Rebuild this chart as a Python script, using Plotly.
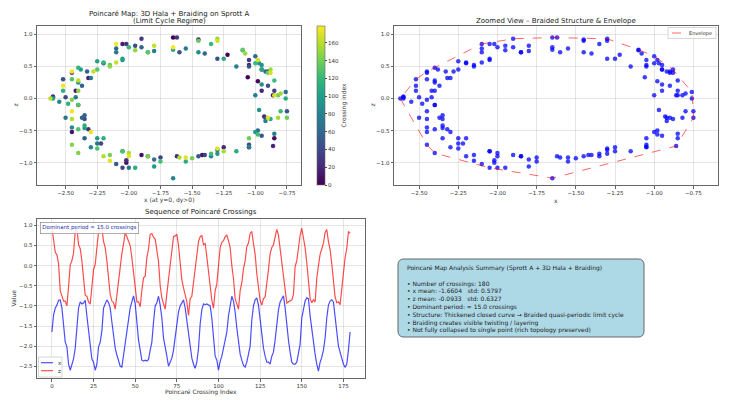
import plotly.graph_objects as go

# Poincare crossings (x and z at each crossing)
crossing_x = [
    -1.65, -1.22, -1.06, -0.98, -0.86, -0.85, -1.05, -1.42, -1.90, -2.02, -2.45, -2.60, -2.42, -2.32, -2.05,
    -1.45, -1.05, -0.90, -0.95, -0.93, -0.86, -1.25, -1.62, -2.02, -2.32, -2.40, -2.60, -2.45, -2.02, -1.90,
    -1.62, -1.05, -0.95, -0.85, -0.92, -1.05, -1.40, -1.75, -2.05, -2.22, -2.35, -2.50, -2.52, -2.20, -1.95,
    -1.60, -1.30, -1.05, -0.90, -0.75, -0.95, -1.45, -1.85, -2.10, -2.35, -2.37, -2.35, -2.37, -2.33, -2.10,
    -1.90, -1.40, -1.00, -0.92, -0.76, -0.98, -1.30, -1.80, -2.00, -2.25, -2.50, -2.42, -2.30, -2.10, -1.80,
    -1.55, -1.15, -1.00, -0.92, -0.85, -1.05, -1.35, -1.65, -2.05, -2.30, -2.45, -2.55, -2.40, -2.05, -1.45,
    -1.10, -0.95, -0.97, -0.95, -0.97, -1.00, -1.30, -1.80, -2.25, -2.35, -2.60, -2.38, -2.25, -2.05, -1.85,
    -1.65, -1.25, -0.95, -0.76, -0.88, -1.15, -1.55, -1.95, -2.20, -2.35, -2.48, -2.52, -2.40, -2.20, -2.00,
    -1.35, -1.00, -0.85, -0.80, -0.98, -1.35, -1.75, -2.05, -2.25, -2.40, -2.40, -2.45, -2.25, -2.15, -1.85,
    -1.45, -1.10, -0.90, -0.82, -0.75, -1.05, -1.50, -1.85, -2.15, -2.40, -2.45, -2.45, -2.40, -2.15, -1.95,
    -1.30, -1.08, -0.88, -0.80, -0.82, -1.25, -1.60, -2.00, -2.20, -2.45, -2.62, -2.40, -2.28, -2.10, -1.80,
    -1.30, -0.98, -0.88, -0.85, -0.90, -1.30, -1.55, -2.00, -2.15, -2.30, -2.45, -2.52, -2.45, -2.10, -1.65,
]
crossing_z = [
    0.95, 0.68, 0.33, 0.27, 0.05, -0.62, -0.76, -0.88, -0.88, -1.00, -0.52, 0.02, 0.12, 0.32, 0.85,
    0.92, 0.52, 0.42, 0.12, -0.28, -0.74, -0.76, -0.90, -0.96, -0.48, -0.10, 0.03, 0.40, 0.85, 0.93,
    0.95, 0.60, 0.45, 0.12, -0.30, -0.72, -0.88, -0.92, -1.08, -0.70, -0.32, 0.02, 0.30, 0.55, 0.82,
    0.72, 0.62, 0.50, 0.20, -0.20, -0.58, -0.90, -0.90, -1.02, -0.62, -0.30, -0.26, 0.20, 0.42, 0.78,
    0.80, 0.70, 0.66, 0.42, 0.10, -0.50, -0.80, -0.95, -1.08, -0.70, -0.30, 0.02, 0.32, 0.72, 0.74,
    0.78, 0.50, 0.05, -0.35, -0.55, -0.75, -0.90, -1.24, -0.82, -0.76, -0.45, -0.05, 0.25, 0.60, 0.72,
    0.75, 0.52, 0.55, 0.22, -0.18, -0.52, -0.86, -1.06, -0.62, -0.46, 0.00, 0.45, 0.58, 0.62, 0.72,
    0.76, 0.62, 0.45, 0.00, -0.32, -0.82, -0.98, -1.08, -0.62, -0.42, -0.08, 0.12, 0.48, 0.56, 0.80,
    0.85, 0.55, 0.28, -0.20, -0.56, -0.86, -0.98, -0.82, -0.78, -0.48, -0.10, 0.30, 0.45, 0.52, 0.72,
    0.90, 0.76, 0.40, 0.05, -0.30, -0.62, -0.93, -0.90, -0.88, -0.85, -0.72, -0.02, 0.12, 0.50, 0.75,
    0.93, 0.70, 0.45, 0.08, -0.30, -0.82, -0.92, -0.85, -0.90, -0.32, 0.00, 0.28, 0.42, 0.56, 0.82,
    0.90, 0.60, 0.40, 0.05, -0.30, -0.78, -0.92, -0.90, -0.97, -0.52, -0.20, 0.20, 0.42, 0.85, 0.80,
]
crossing_index = list(range(len(crossing_x)))

summary_lines = [
    "Poincaré Map Analysis Summary (Sprott A + 3D Hala + Braiding)",
    "",
    "• Number of crossings: 180",
    "• x mean: -1.6604   std: 0.5797",
    "• z mean: -0.0933   std: 0.6327",
    "• Dominant period: ≈ 15.0 crossings",
    "• Structure: Thickened closed curve → Braided quasi-periodic limit cycle",
    "• Braiding creates visible twisting / layering",
    "• Not fully collapsed to single point (rich topology preserved)",
]

FONT = "DejaVu Sans"
W, H = 731, 411
OFF = 8  # page body margin


def convex_hull(points):
    pts = sorted(set(points))

    def cross(o, a, b):
        return (a[0] - o[0]) * (b[1] - o[1]) - (a[1] - o[1]) * (b[0] - o[0])

    lower, upper = [], []
    for p in pts:
        while len(lower) >= 2 and cross(lower[-2], lower[-1], p) <= 0:
            lower.pop()
        lower.append(p)
    for p in reversed(pts):
        while len(upper) >= 2 and cross(upper[-2], upper[-1], p) <= 0:
            upper.pop()
        upper.append(p)
    hull = lower[:-1] + upper[:-1]
    return hull + [hull[0]]


def px_x(p):
    return (p - OFF) / W


def px_y(p):
    return 1 - (p - OFF) / H


hull = convex_hull(list(zip(crossing_x, crossing_z)))

fig = go.Figure()

fig.add_trace(go.Scatter(
    x=crossing_x, y=crossing_z, mode="markers", xaxis="x", yaxis="y",
    marker=dict(size=4.5, color=crossing_index, colorscale="Viridis", cmin=0, cmax=179,
                colorbar=dict(x=px_x(317), xanchor="left", xpad=0, ypad=0, thickness=8,
                              lenmode="pixels", len=159, y=px_y(105.5), yanchor="middle",
                              outlinewidth=0.6, outlinecolor="#666",
                              tickvals=[0, 20, 40, 60, 80, 100, 120, 140, 160], ticks="outside", ticklen=2,
                              tickfont=dict(size=5.5, color="#333"))),
    showlegend=False,
))

fig.add_trace(go.Scatter(
    x=crossing_x, y=crossing_z, mode="markers", xaxis="x2", yaxis="y2",
    marker=dict(size=4.5, color="rgba(0,0,255,0.75)"), showlegend=False,
))
fig.add_trace(go.Scatter(
    x=[p[0] for p in hull], y=[p[1] for p in hull], mode="lines", xaxis="x2", yaxis="y2",
    line=dict(color="rgba(255,0,0,0.6)", width=1, dash="dash"), showlegend=False,
))

fig.add_trace(go.Scatter(
    x=crossing_index, y=crossing_x, mode="lines", xaxis="x3", yaxis="y3",
    line=dict(color="rgba(0,0,255,0.7)", width=1.2), showlegend=False,
))
fig.add_trace(go.Scatter(
    x=crossing_index, y=crossing_z, mode="lines", xaxis="x3", yaxis="y3",
    line=dict(color="rgba(255,0,0,0.7)", width=1.2), showlegend=False,
))

axis_style = dict(showline=True, mirror=True, linecolor="#666", linewidth=1, ticks="outside",
                  ticklen=2.5, tickcolor="#666", tickfont=dict(size=5.5, color="#333"),
                  showgrid=True, gridcolor="rgba(0,0,0,0.1)", zeroline=False, automargin=False)

fig.update_layout(
    width=W, height=H, margin=dict(l=0, r=0, t=0, b=0),
    paper_bgcolor="white", plot_bgcolor="white",
    font=dict(family=FONT, size=6, color="#333"),
    showlegend=False,
    xaxis=dict(domain=[px_x(37), px_x(301)], anchor="y", range=[-2.726, -0.639], dtick=0.25, tick0=0,
               tickformat=".2f", **axis_style),
    yaxis=dict(domain=[px_y(185), px_y(25.7)], anchor="x", range=[-1.347, 1.134], dtick=0.5, tick0=0,
               tickformat=".1f", **axis_style),
    xaxis2=dict(domain=[px_x(394), px_x(718)], anchor="y2", range=[-2.66, -0.593], dtick=0.25, tick0=0,
                tickformat=".2f", **axis_style),
    yaxis2=dict(domain=[px_y(185), px_y(25.7)], anchor="x2", range=[-1.347, 1.134], dtick=0.5, tick0=0,
                tickformat=".1f", **axis_style),
    xaxis3=dict(domain=[px_x(37), px_x(365)], anchor="y3", range=[-8.95, 187.95], dtick=25, tick0=0,
                **axis_style),
    yaxis3=dict(domain=[px_y(378.3), px_y(219)], anchor="x3", range=[-2.80, 1.16], dtick=0.5, tick0=0,
                tickformat=".1f", **axis_style),
)


def label(text, x, y, size=6, angle=0, **kw):
    return dict(text=text, x=px_x(x), y=px_y(y), xanchor=kw.pop("xanchor", "center"),
                yanchor=kw.pop("yanchor", "middle"), textangle=angle,
                font=dict(size=size, color=kw.pop("color", "#333")), **kw)


annotations = [
    label("Poincaré Map: 3D Hala + Braiding on Sprott A", 169, 13.5, size=7, color="#222"),
    label("(Limit Cycle Regime)", 169, 20.5, size=7, color="#222"),
    label("Zoomed View – Braided Structure & Envelope", 556, 20.5, size=7, color="#222"),
    label("Sequence of Poincaré Crossings", 201, 212, size=7, color="#222"),
    # axis titles
    label("x (at y=0, dy>0)", 169, 200),
    label("z", 15, 105.5, angle=-90),
    label("x", 556, 200),
    label("z", 372, 105.5, angle=-90),
    label("Poincaré Crossing Index", 201, 391.5),
    label("Value", 13, 298.5, angle=-90),
    label("Crossing index", 343, 105.5, angle=-90),
    label("Dominant period ≈ 15.0 crossings", 40, 222, size=5.5, xanchor="left", yanchor="top",
          color="#2233aa", bgcolor="rgba(255,255,255,0.85)", bordercolor="#999", borderwidth=0.8,
          borderpad=1.5),
    label("<br>".join(summary_lines), 405, 262, xanchor="left", yanchor="top", align="left", color="#222"),
    # legend labels
    label("Envelope", 687, 33, size=5, xanchor="left"),
    label("x", 56, 362.7, size=5.5, xanchor="left"),
    label("z", 56, 370.7, size=5.5, xanchor="left"),
]
for a in annotations:
    a.update(xref="paper", yref="paper", showarrow=False)
fig.update_layout(annotations=annotations)

# rounded summary box
x0, x1, y0, y1, r = px_x(398), px_x(644), px_y(337), px_y(259), 6
rx, ry = r / W, r / H
path = (f"M {x0 + rx} {y0} L {x1 - rx} {y0} Q {x1} {y0} {x1} {y0 + ry} "
        f"L {x1} {y1 - ry} Q {x1} {y1} {x1 - rx} {y1} L {x0 + rx} {y1} Q {x0} {y1} {x0} {y1 - ry} "
        f"L {x0} {y0 + ry} Q {x0} {y0} {x0 + rx} {y0} Z")
fig.add_shape(type="path", path=path, xref="paper", yref="paper",
              fillcolor="#add8e6", line=dict(color="#666", width=1), layer="below")

# hand-drawn legend boxes
legend_shapes = [
    dict(type="rect", x0=px_x(668), x1=px_x(716), y0=px_y(38.5), y1=px_y(27.5),
         fillcolor="rgba(255,255,255,0.85)", line=dict(color="#ccc", width=0.8)),
    dict(type="line", x0=px_x(672), x1=px_x(684), y0=px_y(33), y1=px_y(33),
         line=dict(color="rgba(255,0,0,0.6)", width=1, dash="dash")),
    dict(type="rect", x0=px_x(38.5), x1=px_x(62), y0=px_y(377), y1=px_y(357),
         fillcolor="rgba(255,255,255,0.85)", line=dict(color="#ccc", width=0.8)),
    dict(type="line", x0=px_x(41), x1=px_x(53), y0=px_y(362.7), y1=px_y(362.7),
         line=dict(color="rgba(0,0,255,0.7)", width=1.2)),
    dict(type="line", x0=px_x(41), x1=px_x(53), y0=px_y(370.7), y1=px_y(370.7),
         line=dict(color="rgba(255,0,0,0.7)", width=1.2)),
]
for s in legend_shapes:
    s.update(xref="paper", yref="paper", layer="above")
    fig.add_shape(**s)

fig.write_html("out.html")
